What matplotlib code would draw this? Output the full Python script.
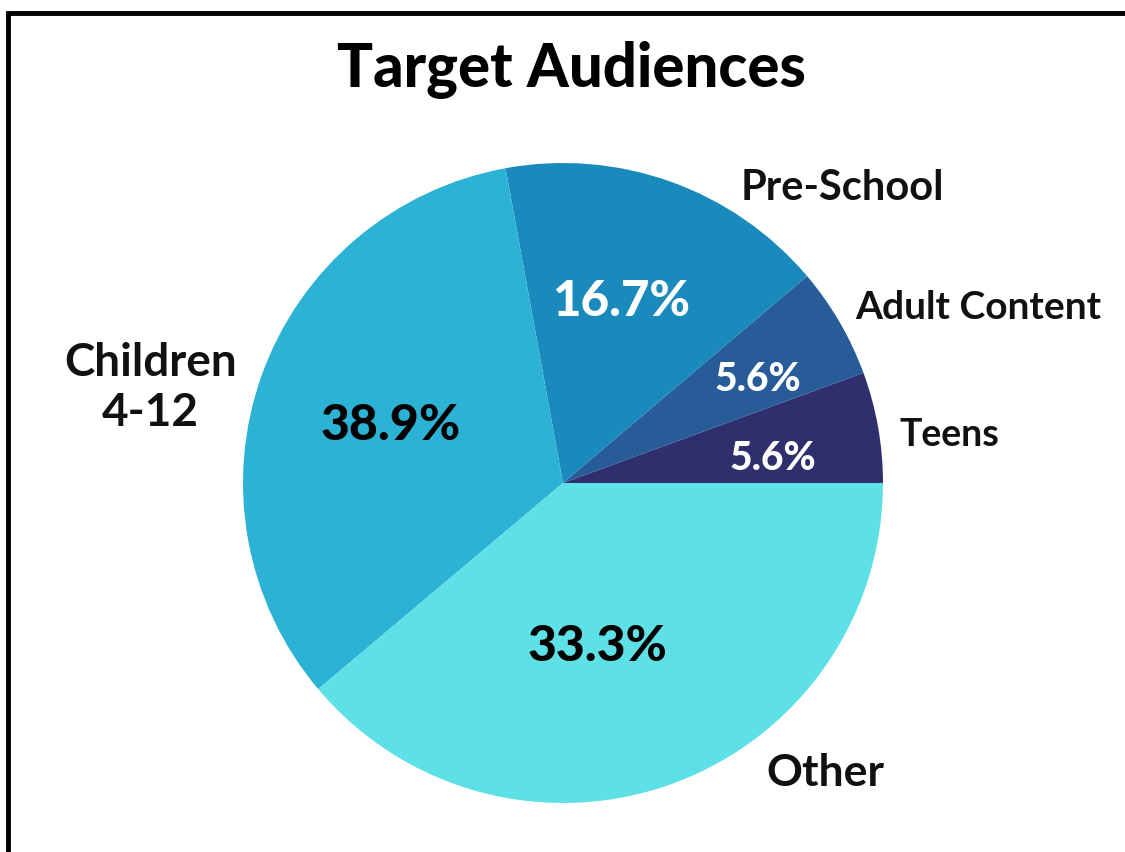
import numpy as np
import matplotlib.pyplot as plt
from matplotlib.patches import Rectangle

# slices, counter-clockwise from 3 o'clock
labels = ['Teens', 'Adult Content', 'Pre-School', 'Children\n4-12', 'Other']
sizes = [5.6, 5.6, 16.7, 33.3, 38.9]
pct_text = ['5.6%', '5.6%', '16.7%', '38.9%', '33.3%']
colors = ['#2e2f6c', '#275c99', '#1a89bb', '#2cb2d4', '#5de1e6']
pct_colors = ['white', 'white', 'white', 'black', 'black']

plt.rcParams['font.family'] = ['Lato', 'DejaVu Sans']

fig = plt.figure(figsize=(11.25, 8.53), dpi=100)
# pie axes: centre at (563, 484) px, radius 320 px
W, H = 1125, 853
cx, cy, r = 563, 484, 320
ax = fig.add_axes([(cx - r) / W, (H - cy - r) / H, 2 * r / W, 2 * r / H])

wedges, _ = ax.pie(sizes, colors=colors, startangle=0, counterclock=True,
                   wedgeprops=dict(linewidth=0))
ax.set_xlim(-1, 1)
ax.set_ylim(-1, 1)
ax.set_aspect('equal')
ax.axis('off')

# percentage labels inside slices
pct_r = [0.66, 0.69, 0.60, 0.57, 0.52]
pct_shift = [-3, -2, 2, 1, -8]
pct_size = [28, 28, 35.5, 36, 36]
for i, w in enumerate(wedges):
    ang = np.deg2rad((w.theta1 + w.theta2) / 2 + pct_shift[i])
    ax.text(pct_r[i] * np.cos(ang), pct_r[i] * np.sin(ang), pct_text[i],
            ha='center', va='center', fontsize=pct_size[i], fontweight='black',
            color=pct_colors[i])

# outside labels
lab_pos = [(1.053, 0.153), (0.912, 0.553), (0.556, 0.925), (-1.29, 0.30), (0.637, -0.903)]
lab_ha = ['left', 'left', 'left', 'center', 'left']
lab_size = [27, 28, 30, 33, 32]
for i, (x, y) in enumerate(lab_pos):
    ax.text(x, y, labels[i], ha=lab_ha[i], va='center',
            fontsize=lab_size[i], fontweight='bold', color='#111111',
            multialignment='center', linespacing=1.25)

fig.text(571 / W, 1 - 70 / H, 'Target Audiences', ha='center', va='center',
         fontsize=43, fontweight='black')

# frame (only top and left edge visible)
fig.patches.append(Rectangle((8 / W, -0.1), 1.2, 1 - 14 / H + 0.1,
                             transform=fig.transFigure, fill=False,
                             edgecolor='black', linewidth=3.5))

fig.savefig('out.png', dpi=100, facecolor='white')
